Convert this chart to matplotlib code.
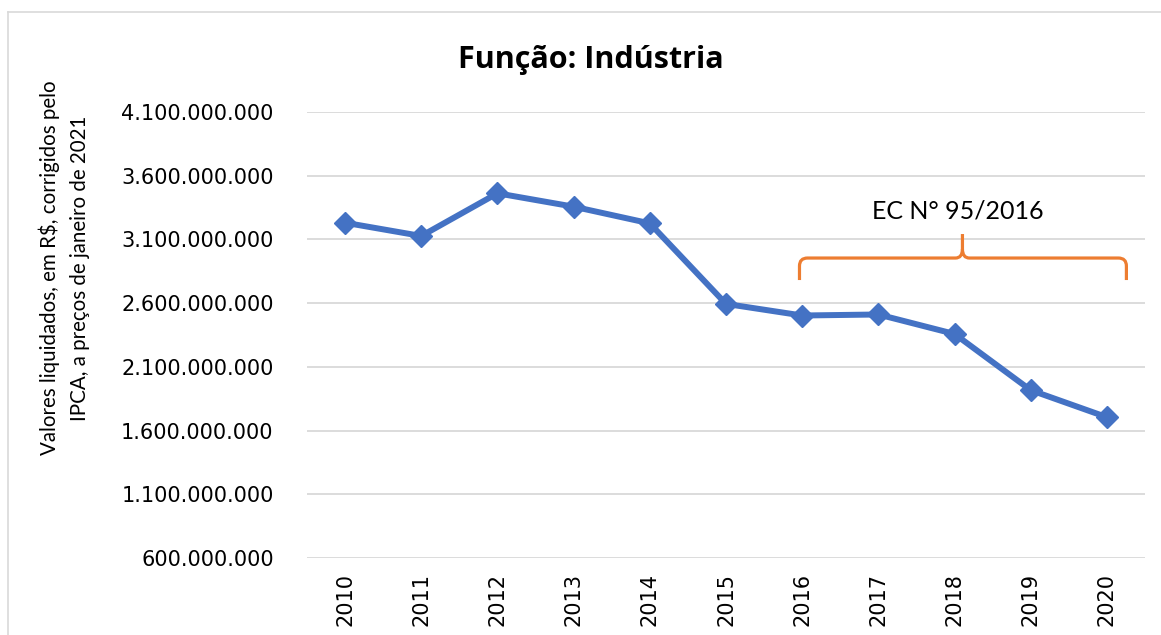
import matplotlib
matplotlib.use("Agg")
import numpy as np
import matplotlib.pyplot as plt
from matplotlib.path import Path
from matplotlib.patches import PathPatch
from matplotlib.lines import Line2D
from matplotlib.ticker import FuncFormatter, FixedLocator

plt.rcParams["font.family"] = ["DejaVu Sans"]

# ---- data ----
years = ["2010", "2011", "2012", "2013", "2014", "2015",
         "2016", "2017", "2018", "2019", "2020"]
values = [3231000000, 3127000000, 3462000000, 3357000000, 3226000000,
          2594000000, 2503000000, 2511000000, 2358000000, 1917000000,
          1705000000]
title = "Função: Indústria"
ylabel = "Valores liquidados, em R$, corrigidos pelo\nIPCA, a preços de janeiro de 2021"
annot_text = "EC N° 95/2016"
y_min, y_max, y_step = 600000000, 4100000000, 500000000

W, H = 1161, 635
fig = plt.figure(figsize=(W / 100, H / 100), dpi=100)
fig.patch.set_facecolor("white")

# outer chart frame (light gray)
fig.add_artist(Line2D([8 / W, 8 / W], [0, 1 - 12 / H], transform=fig.transFigure,
                      color="#D9D9D9", lw=1.2))
fig.add_artist(Line2D([8 / W, 1], [1 - 12 / H, 1 - 12 / H], transform=fig.transFigure,
                      color="#D9D9D9", lw=1.2))

left, right = 307 / W, 1145 / W
bottom, top = 1 - 558 / H, 1 - 112 / H
ax = fig.add_axes([left, bottom, right - left, top - bottom])

x = list(range(len(years)))
ax.plot(x, values, color="#4472C4", lw=4.3, marker="D", markersize=11,
        markerfacecolor="#4472C4", markeredgecolor="#4472C4", zorder=3)

ax.set_xlim(-0.5, len(years) - 0.5)
ax.set_ylim(y_min, y_max)
ax.yaxis.set_major_locator(FixedLocator(np.arange(y_min, y_max + 1, y_step)))
ax.yaxis.set_major_formatter(FuncFormatter(lambda v, p: f"{v:,.0f}".replace(",", ".")))
ax.set_xticks(x)
ax.set_xticklabels(years, rotation=90)
ax.grid(axis="y", color="#D9D9D9", lw=1.3)
ax.set_axisbelow(True)
for s in ax.spines.values():
    s.set_visible(False)
ax.tick_params(axis="both", length=0, labelsize=15, colors="#000000")
ax.tick_params(axis="y", pad=24)
ax.tick_params(axis="x", pad=11)

# title
fig.text(591 / W, 1 - 60 / H, title, ha="center", va="center",
         fontsize=22, fontweight="bold", family="Open Sans")

# y label
fig.text(64.5 / W, 1 - 268 / H, ylabel, ha="center", va="center", rotation=90,
         fontsize=14.8, family="Lato", multialignment="center", linespacing=1.6)

# ---- brace annotation (pixel geometry mapped to data coords) ----
def px2data(px, py):
    xd = (px - 345.5) / 76.2
    yd = 3.6e9 - (py - 175.7) / 63.7 * 0.5e9
    return (xd, yd)

pts = [
    ((800, 280), Path.MOVETO),
    ((800, 266), Path.LINETO),
    ((800, 258), Path.CURVE3), ((808, 258), Path.CURVE3),
    ((956, 258), Path.LINETO),
    ((963, 258), Path.CURVE3), ((963, 249), Path.CURVE3),
    ((963, 234), Path.LINETO),
    ((963, 249), Path.MOVETO),
    ((963, 258), Path.CURVE3), ((970, 258), Path.CURVE3),
    ((1119, 258), Path.LINETO),
    ((1127, 258), Path.CURVE3), ((1127, 266), Path.CURVE3),
    ((1127, 280), Path.LINETO),
]
verts = [px2data(*p) for p, c in pts]
codes = [c for p, c in pts]
brace = PathPatch(Path(verts, codes), facecolor="none", edgecolor="#ED7D31",
                  lw=2.3, capstyle="butt", joinstyle="round", clip_on=False)
ax.add_patch(brace)

tx, ty = px2data(958, 211)
ax.text(tx, ty, annot_text, ha="center", va="center", fontsize=18, family="Lato")

fig.savefig("out.png", dpi=100)
